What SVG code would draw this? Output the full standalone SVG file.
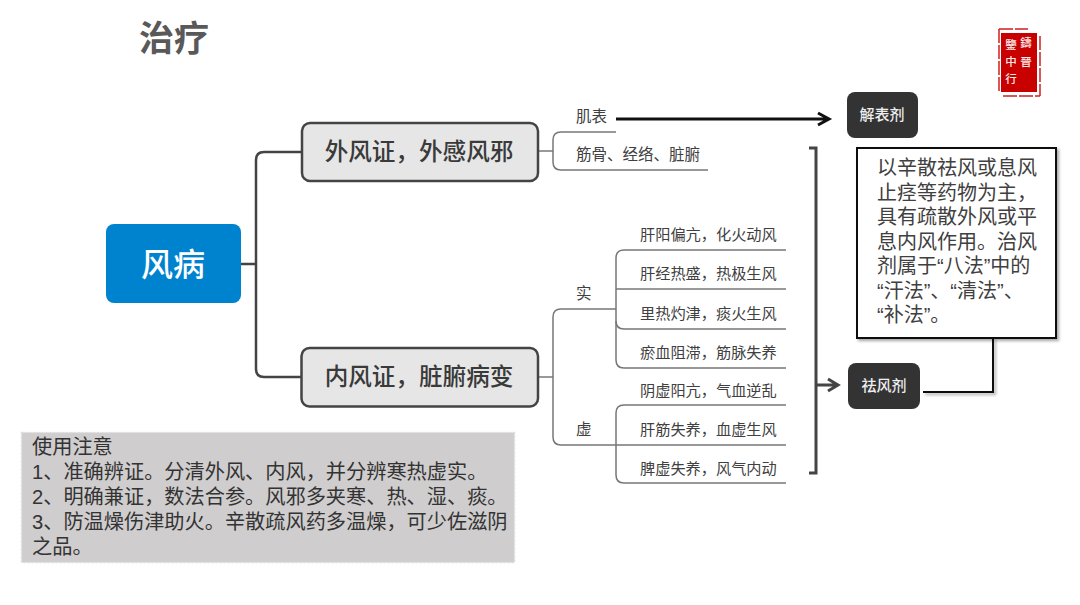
<svg xmlns="http://www.w3.org/2000/svg" width="1080" height="605" viewBox="0 0 1080 605">
<style>
text{font-family:"Liberation Sans","Noto Sans CJK SC",sans-serif;}
.title{font-family:"Noto Sans CJK SC",sans-serif;font-size:35px;font-weight:700;fill:#595959;}
.l1{fill:#e6e6e6;stroke:#444;stroke-width:2.5;}
.l1t{font-family:"Noto Sans CJK SC",sans-serif;font-size:23.600px;font-weight:500;fill:#3a3a3a;text-anchor:middle;}
.leaf{font-family:"Noto Sans CJK SC",sans-serif;font-size:15.500px;fill:#404040;}
.leaf2{font-family:"Noto Sans CJK SC",sans-serif;font-size:15.200px;fill:#404040;}
.dark{fill:#333;}
.darkt{font-family:"Noto Sans CJK SC",sans-serif;font-size:15px;font-weight:500;fill:#eee;text-anchor:middle;}
.main{fill:none;stroke:#444;stroke-width:2.5;}
.thin{fill:none;stroke:#777;stroke-width:1.5;}
.box{font-size:20px;fill:#404040;}
.note{font-size:20.200px;fill:#333;}
.seal{font-family:"Noto Sans CJK TC",sans-serif;font-size:11.500px;font-weight:500;fill:#fbe9e9;text-anchor:middle;}
</style>
<defs>
<filter id="sh" x="-10%" y="-10%" width="120%" height="120%"><feDropShadow dx="2" dy="2" stdDeviation="1.5" flood-color="#000" flood-opacity="0.35"/></filter>
</defs>
<rect width="1080" height="605" fill="#fff"/>
<text class="title" x="139" y="51">治疗</text>
<g id="seal">
<rect x="1001" y="33" width="36" height="59" fill="#c80000"/>
<path d="M999 29H1028M999 29V92M1040 36V96M1003 96H1040" fill="none" stroke="#d02020" stroke-width="1.500" stroke-dasharray="14 2"/>
<text class="seal" x="1026" y="47">鑄</text>
<text class="seal" x="1026" y="66">晉</text>
<text class="seal" x="1011" y="49">鑒</text>
<text class="seal" x="1011" y="66">中</text>
<text class="seal" x="1011" y="83">行</text>
</g>
<g id="connectors">
<path class="main" d="M241 264H256"/>
<path class="main" d="M302 152H264Q256 152 256 160V369Q256 377 264 377H302"/>
<path class="thin" d="M538 151H553"/>
<path class="thin" d="M616 132H561Q553 132 553 140V162Q553 170 561 170H708"/>
<path class="thin" d="M538 377H553"/>
<path class="thin" d="M616 309H561Q553 309 553 317V437Q553 445 561 445H786"/>
<path class="thin" d="M786 250H624Q616 250 616 258V360Q616 368 624 368H786"/>
<path class="thin" d="M616 289H786"/>
<path class="thin" d="M616 321Q616 329 624 329H786"/>
<path class="thin" d="M786 405H624Q616 405 616 413V475Q616 483 624 483H786"/>
<path d="M616 119H829M818 113L829 119L818 125" fill="none" stroke="#111" stroke-width="3"/>
<path d="M809 148H816V473H809" fill="none" stroke="#444" stroke-width="3"/>
<path d="M816 385H838M828 379L838 385L828 391" fill="none" stroke="#444" stroke-width="3"/>
<path d="M993 338V392H923" fill="none" stroke="#111" stroke-width="2" filter="url(#sh)"/>
</g>
<g id="root"><rect x="106" y="224" width="135" height="79" rx="8" fill="#0083cf"/><text x="173" y="276" font-size="32" font-weight="500" fill="#fff" text-anchor="middle" style="font-family:'Noto Sans CJK SC',sans-serif">风病</text></g>
<g id="waifeng"><rect class="l1" x="302" y="123" width="236" height="58" rx="8"/><text class="l1t" x="419" y="160">外风证，外感风邪</text></g>
<g id="neifeng"><rect class="l1" x="301.500" y="348" width="236.500" height="58.500" rx="8"/><text class="l1t" x="419" y="385">内风证，脏腑病变</text></g>
<g id="leaves">
<text class="leaf" x="576" y="122">肌表</text>
<text class="leaf" x="576" y="160">筋骨、经络、脏腑</text>
<text class="leaf" x="576" y="299">实</text>
<text class="leaf" x="576" y="435">虚</text>
<text class="leaf2" x="640" y="240">肝阳偏亢，化火动风</text>
<text class="leaf2" x="640" y="279">肝经热盛，热极生风</text>
<text class="leaf2" x="640" y="319">里热灼津，痰火生风</text>
<text class="leaf2" x="640" y="358">瘀血阻滞，筋脉失养</text>
<text class="leaf2" x="640" y="396">阴虚阳亢，气血逆乱</text>
<text class="leaf2" x="640" y="435">肝筋失养，血虚生风</text>
<text class="leaf2" x="640" y="474">脾虚失养，风气内动</text>
</g>
<g id="jiebiao"><rect class="dark" x="847" y="92" width="71" height="46" rx="8"/><text class="darkt" x="882" y="120">解表剂</text></g>
<g id="qufeng"><rect class="dark" x="848" y="363" width="72" height="46" rx="8"/><text class="darkt" x="884" y="391">祛风剂</text></g>
<g id="desc">
<rect x="857" y="148" width="199" height="190" fill="#fff" stroke="#111" stroke-width="2" filter="url(#sh)"/>
<text class="box" x="877" y="175">以辛散祛风或息风</text>
<text class="box" x="877" y="200">止痉等药物为主，</text>
<text class="box" x="877" y="224">具有疏散外风或平</text>
<text class="box" x="877" y="249">息内风作用。治风</text>
<text class="box" x="877" y="273">剂属于“八法”中的</text>
<text class="box" x="877" y="298">“汗法”、“清法”、</text>
<text class="box" x="877" y="322">“补法”。</text>
</g>
<g id="notes">
<rect x="21.500" y="432.500" width="493" height="130" fill="#cfcdcd" stroke="#dedcdc" stroke-width="1.500" stroke-dasharray="2 2"/>
<text class="note" x="32" y="454">使用注意</text>
<text class="note" x="32" y="479">1、准确辨证。分清外风、内风，并分辨寒热虚实。</text>
<text class="note" x="32" y="504">2、明确兼证，数法合参。风邪多夹寒、热、湿、痰。</text>
<text class="note" x="32" y="529">3、防温燥伤津助火。辛散疏风药多温燥，可少佐滋阴</text>
<text class="note" x="32" y="554">之品。</text>
</g>
</svg>
